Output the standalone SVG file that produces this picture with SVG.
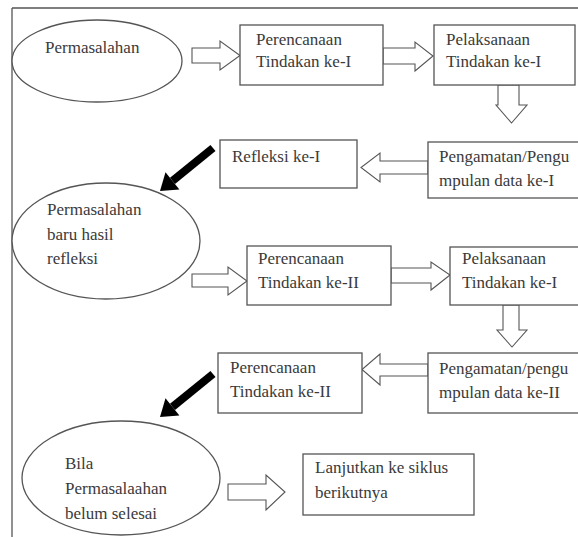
<svg xmlns="http://www.w3.org/2000/svg" width="578" height="537" viewBox="0 0 578 537">
<defs>
<style>
.n{fill:#fff;stroke:#555;stroke-width:1.3}
.t{font-family:"Liberation Serif","Times New Roman",serif;font-size:17px;fill:#3a3a3a}
.h{fill:#fff;stroke:#555;stroke-width:1.1;stroke-linejoin:miter}
.b{stroke:#000;stroke-width:8;fill:none}
</style>
<g id="blackArrow">
<line class="b" x1="213" y1="148" x2="172.5" y2="180.9"/>
<polygon points="160,191 179.4,189.5 165.5,172.3" fill="#000"/>
</g>
</defs>
<rect width="578" height="537" fill="#fff"/>
<g id="frame" fill="none" stroke="#555" stroke-width="1.3">
<line x1="12" y1="8" x2="12" y2="537"/>
<line x1="12" y1="8" x2="578" y2="8"/>
</g>
<g id="connectors">
<path class="h" d="M192,48 H220 V41 L240,55.5 L220,70 V63 H192 Z"/>
<path class="h" d="M383,48 H415 V42 L433,56 L415,71 V64 H383 Z"/>
<path class="h" d="M498,85 V105 H496 L511.5,123 L527,105 H519 V85 Z"/>
<path class="h" d="M428,161 H380 V153 L361,167.5 L380,182 V174 H428 Z"/>
<use href="#blackArrow"/>
<path class="h" d="M192,274 H228 V267 L247,281 L228,295 V287 H192 Z"/>
<path class="h" d="M391,268 H431 V262 L450,275 L431,290 V283 H391 Z"/>
<path class="h" d="M503,305 V330 H497 L512,347 L527,330 H519 V305 Z"/>
<path class="h" d="M428,364 H380 V354 L362,369.5 L380,385 V376 H428 Z"/>
<use href="#blackArrow" transform="translate(0,226)"/>
<path class="h" d="M228,484 H266 V475 L285,492 L266,510 V500 H228 Z"/>
</g>
<g id="n1"><ellipse class="n" cx="97" cy="61" rx="85" ry="41"/>
<text class="t" x="45" y="53">Permasalahan</text></g>
<g id="n2"><rect class="n" x="240" y="25" width="143" height="60"/>
<text class="t" x="256" y="45">Perencanaan</text><text class="t" x="256" y="67">Tindakan ke-I</text></g>
<g id="n3"><rect class="n" x="434" y="25" width="141" height="60"/>
<text class="t" x="446" y="45">Pelaksanaan</text><text class="t" x="446" y="67">Tindakan ke-I</text></g>
<g id="n4"><rect class="n" x="428" y="142" width="160" height="56"/>
<text class="t" x="439" y="162">Pengamatan/Pengu</text><text class="t" x="439" y="186">mpulan data ke-I</text></g>
<g id="n5"><rect class="n" x="220" y="140" width="137" height="48"/>
<text class="t" x="232" y="162">Refleksi ke-I</text></g>
<g id="n6"><ellipse class="n" cx="106" cy="241" rx="94" ry="58"/>
<text class="t" x="47" y="215">Permasalahan</text><text class="t" x="47" y="240">baru hasil</text><text class="t" x="47" y="264">refleksi</text></g>
<g id="n7"><rect class="n" x="247" y="246" width="144" height="59"/>
<text class="t" x="258" y="264">Perencanaan</text><text class="t" x="258" y="288">Tindakan ke-II</text></g>
<g id="n8"><rect class="n" x="450" y="247" width="140" height="58"/>
<text class="t" x="462" y="264">Pelaksanaan</text><text class="t" x="462" y="288">Tindakan ke-I</text></g>
<g id="n9"><rect class="n" x="428" y="353" width="160" height="60"/>
<text class="t" x="439" y="374">Pengamatan/pengu</text><text class="t" x="439" y="398">mpulan data ke-II</text></g>
<g id="n10"><rect class="n" x="218" y="353" width="144" height="60"/>
<text class="t" x="230" y="373">Perencanaan</text><text class="t" x="230" y="397">Tindakan ke-II</text></g>
<g id="n11"><ellipse class="n" cx="121" cy="478" rx="99" ry="57"/>
<text class="t" x="65" y="469">Bila</text><text class="t" x="65" y="494">Permasalaahan</text><text class="t" x="65" y="519">belum selesai</text></g>
<g id="n12"><rect class="n" x="303" y="454" width="171" height="61"/>
<text class="t" x="315" y="473">Lanjutkan ke siklus</text><text class="t" x="315" y="498">berikutnya</text></g>
</svg>
